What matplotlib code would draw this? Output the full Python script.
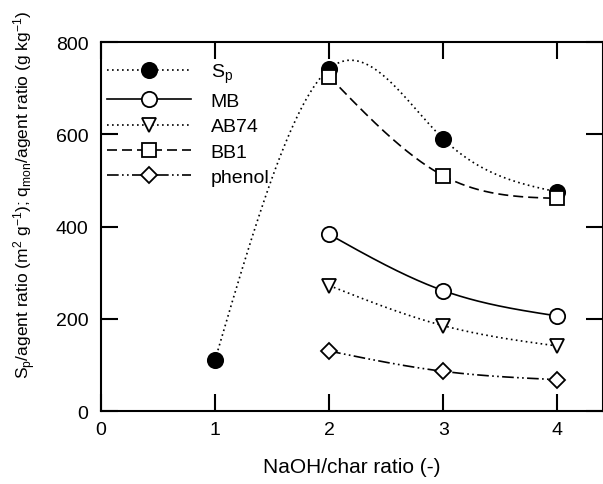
import numpy as np
import matplotlib
matplotlib.use("Agg")
import matplotlib.pyplot as plt

plt.rcParams['font.family'] = ['Liberation Sans', 'DejaVu Sans']
plt.rcParams['mathtext.fontset'] = 'custom'
plt.rcParams['mathtext.rm'] = 'Liberation Sans'
plt.rcParams['mathtext.it'] = 'Liberation Sans'

x_sp = [1, 2, 3, 4]
sp = [111, 742, 590, 475]
x_q = [2, 3, 4]
mb = [383, 261, 206]
ab74 = [272, 185, 141]
bb1 = [725, 510, 461]
phenol = [130, 86, 68]

xticks = [0, 1, 2, 3, 4]
yticks = [0, 200, 400, 600, 800]


def natural_spline(x, y, n=200):
    x = np.asarray(x, float)
    y = np.asarray(y, float)
    k = len(x)
    h = np.diff(x)
    A = np.zeros((k, k))
    b = np.zeros(k)
    A[0, 0] = 1
    A[-1, -1] = 1
    for i in range(1, k - 1):
        A[i, i - 1] = h[i - 1]
        A[i, i] = 2 * (h[i - 1] + h[i])
        A[i, i + 1] = h[i]
        b[i] = 3 * ((y[i + 1] - y[i]) / h[i] - (y[i] - y[i - 1]) / h[i - 1])
    c = np.linalg.solve(A, b)
    xs = np.linspace(x[0], x[-1], n)
    ys = np.empty_like(xs)
    for j, xv in enumerate(xs):
        i = min(np.searchsorted(x, xv, side='right') - 1, k - 2)
        dx = xv - x[i]
        bi = (y[i + 1] - y[i]) / h[i] - h[i] * (2 * c[i] + c[i + 1]) / 3
        di = (c[i + 1] - c[i]) / (3 * h[i])
        ys[j] = y[i] + bi * dx + c[i] * dx ** 2 + di * dx ** 3
    return xs, ys


fig = plt.figure(figsize=(6.03, 4.85), dpi=100)
ax = fig.add_axes([0.1675, 0.1505, 0.8325, 0.7608])

series = [
    (x_sp, sp, 'S$_\\mathrm{p}$', (0, (1, 2)), 'o', 'black'),
    (x_q, mb, 'MB', '-', 'o', 'white'),
    (x_q, ab74, 'AB74', (0, (1, 2)), 'v', 'white'),
    (x_q, bb1, 'BB1', (0, (6, 3)), 's', 'white'),
    (x_q, phenol, 'phenol', (0, (7, 2, 1, 2, 1, 2)), 'D', 'white'),
]
msz = {'o': 11, 'v': 10, 's': 9.5, 'D': 8.5}
for xs, ys, lab, ls, mk, fc in series:
    sx, sy = natural_spline(xs, ys)
    ax.plot(sx, sy, color='black', linestyle=ls, linewidth=1.2, zorder=2)
    ax.plot(xs, ys, linestyle='none', marker=mk, markersize=msz[mk],
            markerfacecolor=fc, markeredgecolor='black', markeredgewidth=1.3, zorder=3)
    ax.plot([], [], color='black', linestyle=ls, linewidth=1.2, marker=mk,
            markersize=msz[mk], markerfacecolor=fc, markeredgecolor='black',
            markeredgewidth=1.3, label=lab)

ax.set_xlim(0, 4.4)
ax.set_ylim(0, 800)
ax.set_xticks(xticks)
ax.set_yticks(yticks)
ax.tick_params(direction='in', length=12, width=1.5, top=True, right=True,
               labelsize=14)
ax.tick_params(axis='y', pad=9)
ax.tick_params(axis='x', pad=7)
for s in ax.spines.values():
    s.set_linewidth(1.5)

ax.set_xlabel('NaOH/char ratio (-)', fontsize=15, labelpad=14)
ax.set_ylabel('S$_\\mathrm{p}$/agent ratio (m$^2$ g$^{-1}$); q$_\\mathrm{mon}$/agent ratio (g kg$^{-1}$)',
              fontsize=12.5)
ax.yaxis.set_label_coords(-0.1255, 0.588)

ax.legend(loc='upper left', frameon=False, fontsize=14, handlelength=4.3,
          handletextpad=1.0, labelspacing=0.4, borderaxespad=0.5,
          bbox_to_anchor=(-0.022, 0.995))

fig.savefig('out.png', dpi=100)
